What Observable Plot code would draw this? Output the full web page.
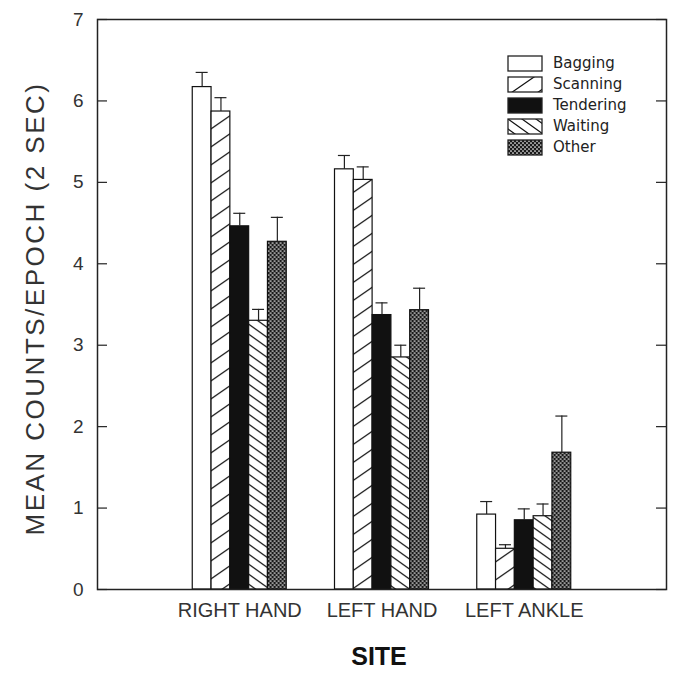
<!DOCTYPE html>
<html>
<head>
<meta charset="utf-8">
<script src="https://cdn.jsdelivr.net/npm/d3@7"></script>
<script src="https://cdn.jsdelivr.net/npm/@observablehq/plot@0.6"></script>
<style>
  body { margin: 0; background: #fff; }
  #wrap { position: relative; width: 675px; height: 679px; }
  #legend { position: absolute; left: 508px; top: 56px; width: 150px; }
  #legend .lg-swatch { display: flex !important; align-items: center; height: 15px; margin: 0 0 6px 0 !important; padding: 0 !important; line-height: 15px; white-space: nowrap; overflow: visible !important; }
  #legend .lg-swatch * { overflow: visible !important; text-overflow: clip !important; }
  #legend .lg-swatch svg { overflow: visible; margin-right: 11px !important; flex-shrink: 0; }
  #legend .lg-swatch svg rect { stroke: #222; stroke-width: 1.3px; }
</style>
</head>
<body>
<svg width="0" height="0" style="position:absolute">
  <defs>
    <pattern id="pat-scan" patternUnits="userSpaceOnUse" width="26" height="18">
      <rect width="26" height="18" fill="white"/>
      <path d="M0,18 L26,0 M-1.5,1 L1.5,-1 M24.5,19 L27.5,17" stroke="#111" stroke-width="1.2"/>
    </pattern>
    <pattern id="pat-wait" patternUnits="userSpaceOnUse" width="14" height="10">
      <rect width="14" height="10" fill="white"/>
      <path d="M0,0 L14,10 M12.6,-1 L15.4,1 M-1.4,9 L1.4,11" stroke="#111" stroke-width="1.2"/>
    </pattern>
    <pattern id="pat-other" patternUnits="userSpaceOnUse" width="4" height="4">
      <rect width="4" height="4" fill="#1a1a1a"/>
      <circle cx="1" cy="1" r="0.85" fill="white"/>
      <circle cx="3" cy="3" r="0.85" fill="white"/>
    </pattern>
  </defs>
</svg>
<div id="wrap"><div id="legend"></div></div>
<script>
// ---- data ----
const sites = ["RIGHT HAND", "LEFT HAND", "LEFT ANKLE"];
const activities = ["Bagging", "Scanning", "Tendering", "Waiting", "Other"];
const bagging   = [6.17, 5.16, 0.92];
const scanning  = [5.87, 5.03, 0.50];
const tendering = [4.46, 3.37, 0.85];
const waiting   = [3.30, 2.85, 0.90];
const other     = [4.27, 3.43, 1.68];
const baggingErr   = [0.18, 0.17, 0.16];
const scanningErr  = [0.17, 0.16, 0.05];
const tenderingErr = [0.16, 0.15, 0.14];
const waitingErr   = [0.14, 0.15, 0.15];
const otherErr     = [0.30, 0.27, 0.45];
const yTicks = [0, 1, 2, 3, 4, 5, 6, 7];
const yTitle = "MEAN COUNTS/EPOCH (2 SEC)";
const xTitle = "SITE";

// ---- build table ----
const fills = ["white", "url(#pat-scan)", "#111", "url(#pat-wait)", "url(#pat-other)"];
const means = [bagging, scanning, tendering, waiting, other];
const errs = [baggingErr, scanningErr, tenderingErr, waitingErr, otherErr];
const rows = activities.flatMap((a, k) =>
  sites.map((s, i) => ({site: s, activity: a, k, value: means[k][i], err: errs[k][i]})));

// ---- layout ----
const W = 675, H = 679, mL = 97, mR = 9, mT = 19, mB = 90;
const plotW = W - mL - mR;
const step = plotW / (sites.length + 1);
const barW = 18.8, capW = 12;
const inset = (step - barW) / 2;
const capInset = (step - capW) / 2;

const marks = [];
activities.forEach((a, k) => {
  const d = rows.filter(r => r.k === k);
  const dx = (k - (activities.length - 1) / 2) * barW;
  marks.push(Plot.barY(d, {x: "site", y: "value", fill: "activity", stroke: "#111", strokeWidth: 1.2,
    insetLeft: inset, insetRight: inset, dx}));
  marks.push(Plot.ruleX(d, {x: "site", y1: "value", y2: r => r.value + r.err, stroke: "#222", strokeWidth: 1.2, dx}));
  marks.push(Plot.tickY(d, {x: "site", y: r => r.value + r.err, stroke: "#222", strokeWidth: 1.2,
    insetLeft: capInset, insetRight: capInset, dx}));
});

const chart = Plot.plot({
  width: W, height: H,
  marginLeft: mL, marginRight: mR, marginTop: mT, marginBottom: mB,
  style: {fontFamily: "'Liberation Sans', Arial, sans-serif", color: "#333", background: "white"},
  x: {domain: sites, paddingInner: 0, paddingOuter: 0.5, round: false, label: null},
  y: {domain: [0, 7], label: null},
  color: {domain: activities, range: fills},
  marks: [
    ...marks,
    Plot.tickY(yTicks, {y: d => d, insetRight: plotW - 10, stroke: "#222", strokeWidth: 1.2}),
    Plot.tickY(yTicks, {y: d => d, insetLeft: plotW - 10, stroke: "#222", strokeWidth: 1.2}),
    Plot.axisY({ticks: yTicks, tickFormat: d3.format("d"), tickSize: 0, tickPadding: 14, fontSize: 19, label: null}),
    Plot.axisX({tickSize: 0, tickPadding: 13, fontSize: 20, label: null}),
    Plot.frame({stroke: "#222", strokeWidth: 1.5}),
    Plot.text([yTitle], {text: d => d, frameAnchor: "left", textAnchor: "middle", rotate: -90, dx: -62, dy: 4, fontSize: 26, fill: "#333"}),
    Plot.text([xTitle], {text: d => d, frameAnchor: "bottom", dx: -3, dy: 75, fontSize: 25, fontWeight: "bold", fill: "#111"})
  ]
});
document.getElementById("wrap").prepend(chart);
d3.select(chart).selectAll("text").filter(function() { return this.textContent === yTitle; })
  .attr("letter-spacing", 2.5);

const legend = Plot.legend({
  color: {type: "ordinal", domain: activities, range: fills},
  legend: "swatches", columns: 1, swatchWidth: 34, swatchHeight: 15, className: "lg",
  style: {fontFamily: "'DejaVu Sans', sans-serif", fontSize: "15px", color: "#222"}
});
document.getElementById("legend").appendChild(legend);
</script>
</body>
</html>
